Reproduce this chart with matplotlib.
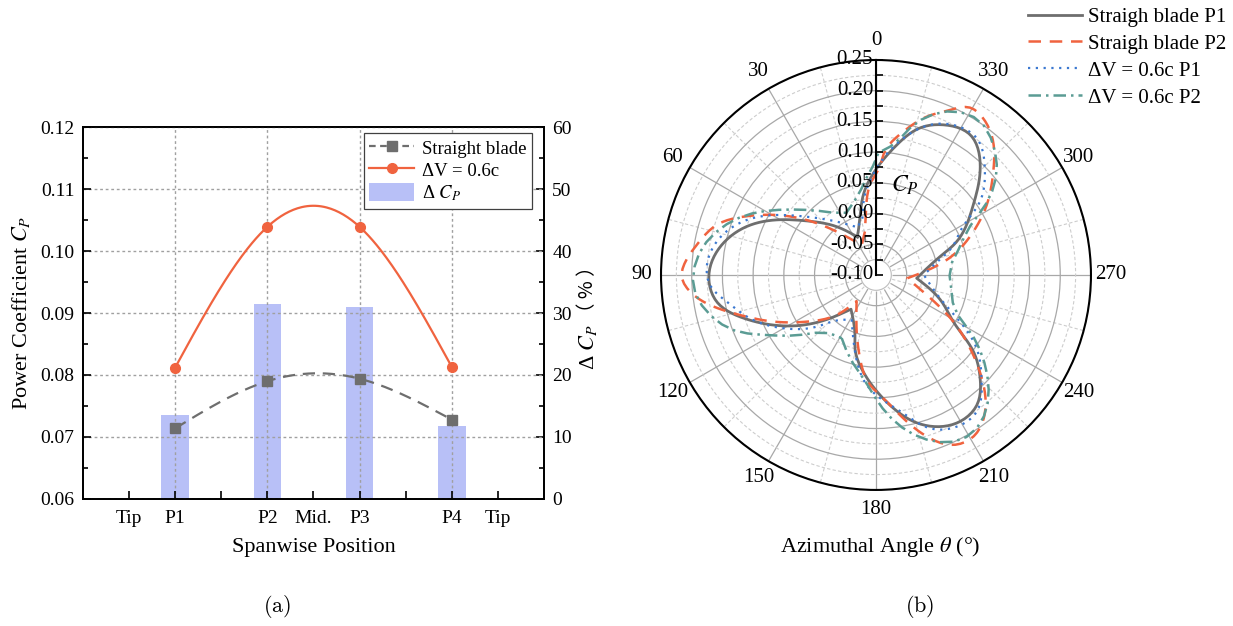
import numpy as np
import matplotlib
matplotlib.use("Agg")
import matplotlib.pyplot as plt
from matplotlib.lines import Line2D
from matplotlib.patches import Patch
from matplotlib.ticker import MultipleLocator, FixedLocator, FixedFormatter
from matplotlib.markers import TICKRIGHT

plt.rcParams['font.family'] = ['Liberation Serif', 'Noto Sans CJK SC']
plt.rcParams['mathtext.fontset'] = 'stix'

# ---- (a) spanwise power coefficient ----
span_pos = [2, 4, 6, 8]
span_labels = ['P1', 'P2', 'P3', 'P4']
edge_pos = [1, 3, 5, 7, 9]
edge_labels = ['Tip', '', 'Mid.', '', 'Tip']
cp_straight = [0.0714, 0.0790, 0.0794, 0.0728]
cp_dv06 = [0.0812, 0.1039, 0.1039, 0.0813]
delta_cp = [13.6, 31.5, 30.9, 11.8]

# ---- (b) azimuthal Cp, theta in degrees ----
th_sp1 = [0, 9, 15.8, 26, 39, 52, 61, 69.5, 81.7, 90, 99.5, 108, 116, 124.5, 133.3,
          143.9, 161.2, 164, 172.5, 181.9, 186.1, 194.3, 201.8, 209.8, 217.8, 225.2,
          231.8, 238.9, 247.9, 265.4, 286, 292.4, 305.7, 315.7, 326.1, 335.8, 343.3,
          351, 360]
r_sp1 = [0.072, 0.032, -0.004, -0.031, 0.001, 0.043, 0.085, 0.125, 0.162, 0.172,
         0.163, 0.127, 0.086, 0.044, 0.003, -0.031, 0.006, 0.024, 0.059, 0.0955,
         0.113, 0.146, 0.166, 0.175, 0.168, 0.139, 0.102, 0.047, 0.0155, -0.0335,
         0.0085, 0.042, 0.095, 0.143, 0.175, 0.168, 0.150, 0.114, 0.072]
cusp_sp1 = [26, 143.9, 265.4]

th_sp2 = [0, 3.8, 9.0, 14.3, 25.5, 42.2, 51.6, 58.9, 66.3, 72.6, 80.5, 87.5, 90,
          95.1, 100.2, 106.4, 114.4, 124, 135.5, 143.4, 161.2, 169.1, 176.9, 181.9,
          190.8, 198.3, 204.5, 211, 218.6, 225.7, 232.1, 238.9, 248.5, 264, 284.5,
          294, 302.3, 311.4, 318.7, 325.6, 330.7, 335.8, 342.2, 349.2, 356.5, 357.9,
          360]
r_sp2 = [0.065, 0.047, 0.0044, -0.027, -0.046, -0.0047, 0.044, 0.089, 0.136, 0.172,
         0.196, 0.214, 0.2165, 0.204, 0.175, 0.131, 0.0837, 0.036, -0.0087, -0.047,
         -0.0025, 0.038, 0.0794, 0.0955, 0.1376, 0.180, 0.204, 0.2073, 0.1847,
         0.1407, 0.094, 0.047, -0.011, -0.0487, 0.030, 0.0735, 0.1133, 0.1546, 0.189,
         0.209, 0.2125, 0.1945, 0.1707, 0.1376, 0.0958, 0.0765, 0.065]
cusp_sp2 = [14.3, 25.5, 143.4, 264]

th_dv1 = [0, 4.9, 10.3, 19.5, 23.5, 36.4, 50, 58.9, 67, 78.2, 88.9, 93.4, 100.1, 109,
          119.9, 131.1, 141.3, 151.6, 164.7, 175.2, 191.2, 199.4, 208, 216.4, 224.7,
          233.9, 240.9, 250, 270, 283, 291, 297.3, 305.2, 314.4, 323.6, 332.7, 340.2,
          348.7, 360]
r_dv1 = [0.072, 0.047, 0.016, -0.0137, -0.014, 0.008, 0.0475, 0.089, 0.1288, 0.165,
         0.1757, 0.1708, 0.147, 0.117, 0.074, 0.028, -0.0062, -0.0167, 0.0295, 0.0798,
         0.1296, 0.1647, 0.1798, 0.1765, 0.1446, 0.1028, 0.0565, 0.011, -0.022, 0.005,
         0.035, 0.054, 0.107, 0.148, 0.1765, 0.1748, 0.1597, 0.127, 0.072]
cusp_dv1 = [23.5, 151.6, 270]

th_dv2 = [0, 3.6, 8.0, 21.3, 26, 32.5, 46.8, 56.8, 65.1, 74.8, 82.5, 90, 93.1, 103.5,
          111.1, 118.8, 128.3, 141.7, 151.5, 162.7, 173, 181.8, 190.1, 200, 207, 213.3,
          222.3, 230.5, 238.9, 248.8, 259, 268, 279, 288.6, 295.5, 301.9, 310.6, 317.9,
          325.8, 333.7, 339.4, 347, 355.2, 358.4, 360]
r_dv2 = [0.088, 0.068, 0.048, 0.0166, 0.012, 0.019, 0.0547, 0.0933, 0.132, 0.169,
         0.189, 0.1976, 0.198, 0.178, 0.149, 0.103, 0.0577, 0.021, 0.017, 0.042, 0.0695,
         0.1117, 0.1536, 0.189, 0.2016, 0.1987, 0.1717, 0.130, 0.0788, 0.035, 0.025,
         0.02, 0.025, 0.0443, 0.0637, 0.1057, 0.1588, 0.185, 0.2018, 0.1967, 0.1813,
         0.1453, 0.107, 0.101, 0.088]
cusp_dv2 = [151.5]

c_gray = '#6e6e6e'
c_red = '#f0633f'
c_blue = '#3b78d0'
c_teal = '#5b9c94'
c_bar = '#b8c0f7'


def natural_spline(x, y, xs):
    # natural cubic spline, used for the smooth connecting lines
    x = np.asarray(x, float)
    y = np.asarray(y, float)
    n = len(x)
    h = np.diff(x)
    A = np.zeros((n, n))
    b = np.zeros(n)
    A[0, 0] = A[-1, -1] = 1
    for i in range(1, n - 1):
        A[i, i - 1] = h[i - 1]
        A[i, i] = 2 * (h[i - 1] + h[i])
        A[i, i + 1] = h[i]
        b[i] = 6 * ((y[i + 1] - y[i]) / h[i] - (y[i] - y[i - 1]) / h[i - 1])
    M = np.linalg.solve(A, b)
    k = np.clip(np.searchsorted(x, xs) - 1, 0, n - 2)
    x0, x1 = x[k], x[k + 1]
    hk = x1 - x0
    return (M[k] * (x1 - xs) ** 3 / (6 * hk) + M[k + 1] * (xs - x0) ** 3 / (6 * hk)
            + (y[k] / hk - M[k] * hk / 6) * (x1 - xs)
            + (y[k + 1] / hk - M[k + 1] * hk / 6) * (xs - x0))


def closed_polar_path(th_deg, r, cusps, r0=-0.10, n=80):
    # smooth closed path through the points, keeping sharp corners at the cusps
    th_deg = np.asarray(th_deg[:-1], float)
    rr = np.asarray(r[:-1], float) - r0
    th = np.radians(th_deg)
    X, Y = rr * np.cos(th), rr * np.sin(th)
    cidx = [int(np.argmin(np.abs(th_deg - c))) for c in cusps]
    m = len(th)
    start = cidx[0]
    X = np.append(np.roll(X, -start), X[start])
    Y = np.append(np.roll(Y, -start), Y[start])
    cuts = sorted((c - start) % m for c in cidx) + [m]
    px, py = [], []
    for a, b in zip(cuts[:-1], cuts[1:]):
        sx, sy = X[a:b + 1], Y[a:b + 1]
        t = np.concatenate([[0], np.cumsum(np.hypot(np.diff(sx), np.diff(sy)))])
        ts = np.linspace(0, t[-1], n)
        px.append(natural_spline(t, sx, ts))
        py.append(natural_spline(t, sy, ts))
    px, py = np.concatenate(px), np.concatenate(py)
    return np.arctan2(py, px), np.hypot(px, py) + r0


fig = plt.figure(figsize=(12.33, 6.26), dpi=100)

# ================= (a) =================
ax1 = fig.add_axes([0.0673, 0.2029, 0.3739, 0.5942])
ax2 = ax1.twinx()

ax2.bar(span_pos, delta_cp, width=0.6, color=c_bar, zorder=1)
ax2.set_ylim(0, 60)
ax2.yaxis.set_major_locator(MultipleLocator(10))
ax2.yaxis.set_minor_locator(MultipleLocator(5))
ax2.tick_params(axis='y', which='both', direction='in', labelsize=14, pad=6)
ax2.tick_params(axis='y', which='major', length=6, width=1.2)
ax2.tick_params(axis='y', which='minor', length=3.5, width=1.2)
# right axis title: latin part and full-width bracket part
ax2.text(1.095, 0.47, 'Δ $C_P$', transform=ax2.transAxes, rotation=90,
         fontsize=16, ha='center', va='top')
ax2.text(1.095, 0.475, '（ % ）', transform=ax2.transAxes, rotation=90,
         fontsize=14, ha='center', va='bottom',
         family=['Noto Sans CJK SC', 'Liberation Serif'])

ax1.set_zorder(ax2.get_zorder() + 1)
ax1.patch.set_visible(False)

xs = np.linspace(span_pos[0], span_pos[-1], 200)
ax1.plot(xs, natural_spline(span_pos, cp_straight, xs), color=c_gray, lw=1.6,
         dashes=(5.5, 3.5))
ax1.plot(span_pos, cp_straight, ls='none', marker='s', ms=6.5, color=c_gray)
ax1.plot(xs, natural_spline(span_pos, cp_dv06, xs), color=c_red, lw=1.6)
ax1.plot(span_pos, cp_dv06, ls='none', marker='o', ms=7, color=c_red)

ax1.set_xlim(0, 10)
ax1.set_ylim(0.06, 0.12)
ax1.xaxis.set_major_locator(FixedLocator(span_pos))
ax1.xaxis.set_major_formatter(FixedFormatter(span_labels))
ax1.xaxis.set_minor_locator(FixedLocator(edge_pos))
ax1.xaxis.set_minor_formatter(FixedFormatter(edge_labels))
ax1.yaxis.set_major_locator(MultipleLocator(0.01))
ax1.yaxis.set_minor_locator(MultipleLocator(0.005))
ax1.yaxis.set_major_formatter(plt.FormatStrFormatter('%.2f'))
ax1.tick_params(axis='both', which='both', direction='in', labelsize=14, width=1.2)
ax1.tick_params(axis='both', which='major', length=6)
ax1.tick_params(axis='both', which='minor', length=3.5)
ax1.tick_params(axis='x', which='both', pad=8, length=6)
ax1.tick_params(axis='y', pad=6)
ax1.grid(True, which='major', color='#a0a0a0', lw=1.0, ls=(0, (2, 2)))
ax1.set_xlabel('Spanwise Position', fontsize=16, labelpad=8)
ax1.set_ylabel('Power Coefficient $C_P$', fontsize=16, labelpad=6)
for sp in list(ax1.spines.values()) + list(ax2.spines.values()):
    sp.set_linewidth(1.3)

leg_a = [Line2D([], [], color=c_gray, lw=1.6, dashes=(3, 2), marker='s', ms=6.5),
         Line2D([], [], color=c_red, lw=1.6, marker='o', ms=7),
         Patch(facecolor=c_bar, edgecolor='none')]
lg = ax1.legend(leg_a, ['Straight blade', 'ΔV = 0.6c', 'Δ $C_P$'],
                loc='upper right', bbox_to_anchor=(0.974, 0.984), borderaxespad=0,
                fontsize=13.5, handlelength=2.4, handleheight=1.1,
                handletextpad=0.4, labelspacing=0.15, borderpad=0.3,
                fancybox=False, framealpha=1, edgecolor='#404040')
lg.get_frame().set_linewidth(0.9)

fig.text(277 / 1233, 1 - 607 / 626, r'$\mathrm{(a)}$', fontsize=16,
         ha='center', va='center', math_fontfamily='cm')

# ================= (b) =================
axp = fig.add_axes([0.5361, 0.2173, 0.3487, 0.6869], projection='polar')
axp.set_theta_zero_location('N')
axp.set_theta_direction(1)
axp.set_ylim(-0.10, 0.25)
axp.set_axisbelow(True)

axp.set_yticks(np.round(np.arange(-0.10, 0.2501, 0.05), 3))
axp.set_yticks(np.round(np.arange(-0.075, 0.25, 0.05), 3), minor=True)
axp.set_yticklabels([])
axp.set_xticks(np.radians(np.arange(0, 360, 30)))
axp.set_xticklabels([str(a) for a in range(0, 360, 30)], fontsize=15)
axp.set_xticks(np.radians(np.arange(15, 360, 30)), minor=True)
axp.grid(True, which='major', color='#a8a8a8', lw=0.9, ls='-')
axp.grid(True, which='minor', color='#cdcdcd', lw=0.8, ls=(0, (3, 2)))
axp.tick_params(axis='x', which='major', direction='in', length=8, width=1.3, pad=7)
axp.tick_params(axis='x', which='minor', direction='in', length=4, width=1.3)
axp.spines['polar'].set_linewidth(1.5)

ring = np.linspace(0, 2 * np.pi, 361)
axp.fill_between(ring, -0.10, -0.075, color='white', zorder=1)
axp.plot(ring, np.full_like(ring, -0.075), color='#bdbdbd', lw=0.8, zorder=1.1)

for th_d, r_d, cusps, style in [
        (th_sp1, r_sp1, cusp_sp1, dict(color=c_gray, lw=2.0)),
        (th_sp2, r_sp2, cusp_sp2, dict(color=c_red, lw=1.8, dashes=(5, 3.5))),
        (th_dv1, r_dv1, cusp_dv1, dict(color=c_blue, lw=1.6, dashes=(1, 2.5))),
        (th_dv2, r_dv2, cusp_dv2, dict(color=c_teal, lw=1.8, dashes=(5, 2, 1, 2)))]:
    t_path, r_path = closed_polar_path(th_d, r_d, cusps)
    axp.plot(t_path, r_path, zorder=3, **style)

# radial axis along 0 deg
r_major = np.round(np.arange(-0.10, 0.2501, 0.05), 3)
axp.plot([0, 0], [-0.10, 0.25], color='k', lw=1.5, zorder=6, clip_on=False)
axp.plot(np.zeros(15), np.arange(-0.10, 0.2501, 0.025), ls='none', marker=TICKRIGHT,
         ms=5, mew=1.2, color='k', zorder=6, clip_on=False)
for r in r_major:
    axp.annotate(f'{r:.2f}', (0, r), xytext=(-2, 0), textcoords='offset points',
                 ha='right', va='center', fontsize=15, zorder=7)

axp.text(0.567, 0.709, '$C_P$', transform=axp.transAxes, fontsize=17,
         ha='center', va='center')

fig.text(880 / 1233, 1 - 547 / 626, r'Azimuthal Angle $\theta$ (°)', fontsize=16,
         ha='center', va='center')
fig.text(920 / 1233, 1 - 607 / 626, r'$\mathrm{(b)}$', fontsize=16,
         ha='center', va='center', math_fontfamily='cm')

leg_b = [Line2D([], [], color=c_gray, lw=2.0),
         Line2D([], [], color=c_red, lw=1.8, dashes=(5, 3.5)),
         Line2D([], [], color=c_blue, lw=1.6, dashes=(1, 2.5)),
         Line2D([], [], color=c_teal, lw=1.8, dashes=(5, 2, 1, 2))]
fig.legend(leg_b, ['Straigh blade P1', 'Straigh blade P2', 'ΔV = 0.6c P1',
                   'ΔV = 0.6c P2'],
           loc='upper right', bbox_to_anchor=(0.998, 0.995), frameon=False,
           fontsize=15, handlelength=2.6, handletextpad=0.3, labelspacing=0.35,
           borderaxespad=0.1, borderpad=0.1)

fig.savefig('out.png', dpi=100)
